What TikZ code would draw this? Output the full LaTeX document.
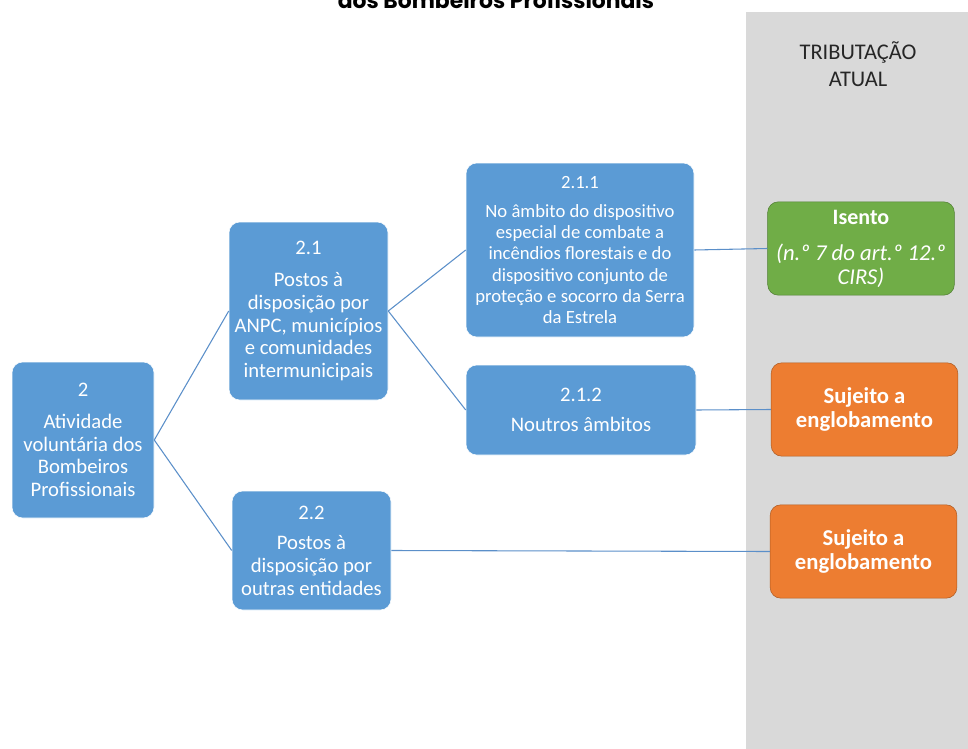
\documentclass[tikz,border=0pt]{standalone}
\usepackage{fontspec}
\setmainfont{Carlito}
\newfontfamily\titlefont{Poppins}
\usetikzlibrary{positioning,backgrounds}
\definecolor{boxblue}{HTML}{5B9BD5}
\definecolor{linkblue}{HTML}{5B8FC9}
\definecolor{boxgreen}{HTML}{70AD47}
\definecolor{greenedge}{HTML}{507E32}
\definecolor{boxorange}{HTML}{ED7D31}
\definecolor{orangeedge}{HTML}{AE5A21}
\definecolor{bandgray}{HTML}{D9D9D9}

\begin{document}
\begin{tikzpicture}[
    x=0.75pt,
    y=-0.75pt,
    font=\fontsize{15.5}{17}\selectfont,
    item/.style={
		rectangle,
		rounded corners=8pt,
		draw=white,
		fill=boxblue,
		text=white,
		align=center,
		inner sep=2pt
	},
	result/.style={
		rectangle,
		rounded corners=8pt,
		draw=orangeedge,
		fill=boxorange,
		text=white,
		align=center,
		font=\fontsize{17}{18}\selectfont\bfseries,
		minimum width=140pt,
		minimum height=70pt
	},
	link/.style={
		draw=linkblue,
		line width=0.8pt
	}
  ]

 \useasboundingbox (0,0) rectangle (968,749);

% // The tax column
 \fill [bandgray] (746,12) rectangle (968,749);
 \node [text=black!85, align=center, font=\fontsize{16.8}{20}\selectfont] (taxhead) at (858,64) {TRIBUTAÇÃO\\ATUAL};

% // title (cut at the top)
 \node [anchor=base, font=\titlefont\fontsize{16.4}{18}\selectfont\bfseries] (title) at (496,9) {dos Bombeiros Profissionais};

% // activity tree
 \node [item, minimum width=106.5pt, minimum height=117pt] (act2) at (83,440)
 {2\\[7pt]Atividade\\voluntária dos\\Bombeiros\\Profissionais};

 \node [item, minimum width=119.25pt, minimum height=133.5pt] (post21) at (308.5,311)
 {2.1\\[7pt]Postos à\\disposição por\\ANPC, municípios\\e comunidades\\intermunicipais};

 \node [item, minimum width=119.25pt, minimum height=89.25pt] (post22) at (311.5,550.5)
 {2.2\\[6pt]Postos à\\disposição por\\outras entidades};

 \node [item, minimum width=171pt, minimum height=130.5pt, font=\fontsize{14}{15.9}\selectfont] (scope211) at (580,250)
 {2.1.1\\[6pt]No âmbito do dispositivo\\especial de combate a\\incêndios florestais e do\\dispositivo conjunto de\\proteção e socorro da Serra\\da Estrela};

 \node [item, minimum width=172.5pt, minimum height=67.5pt] (scope212) at (581,410)
 {2.1.2\\[6pt]Noutros âmbitos};

% // results
 \node [result, draw=greenedge, fill=boxgreen, font=\fontsize{17}{18}\selectfont\itshape] (exempt) at (861,248.5)
 {\fontsize{16.5}{18}\selectfont\upshape\bfseries Isento\\[9pt](n.º 7 do art.º 12.º\\CIRS)};
 \node [result] (joint1) at (864.5,409.5) {Sujeito a\\englobamento};
 \node [result] (joint2) at (863.5,551.5) {Sujeito a\\englobamento};

% // connectors
 \draw [link] (act2.east) -- (post21.west);
 \draw [link] (act2.east) -- (post22.west);
 \draw [link] (post21.east) -- (scope211.west);
 \draw [link] (post21.east) -- (scope212.west);
 \draw [link] (scope211.east) -- (exempt.west);
 \draw [link] (scope212.east) -- (joint1.west);
 \draw [link] (post22.east) -- (joint2.west);

\end{tikzpicture}
\end{document}
